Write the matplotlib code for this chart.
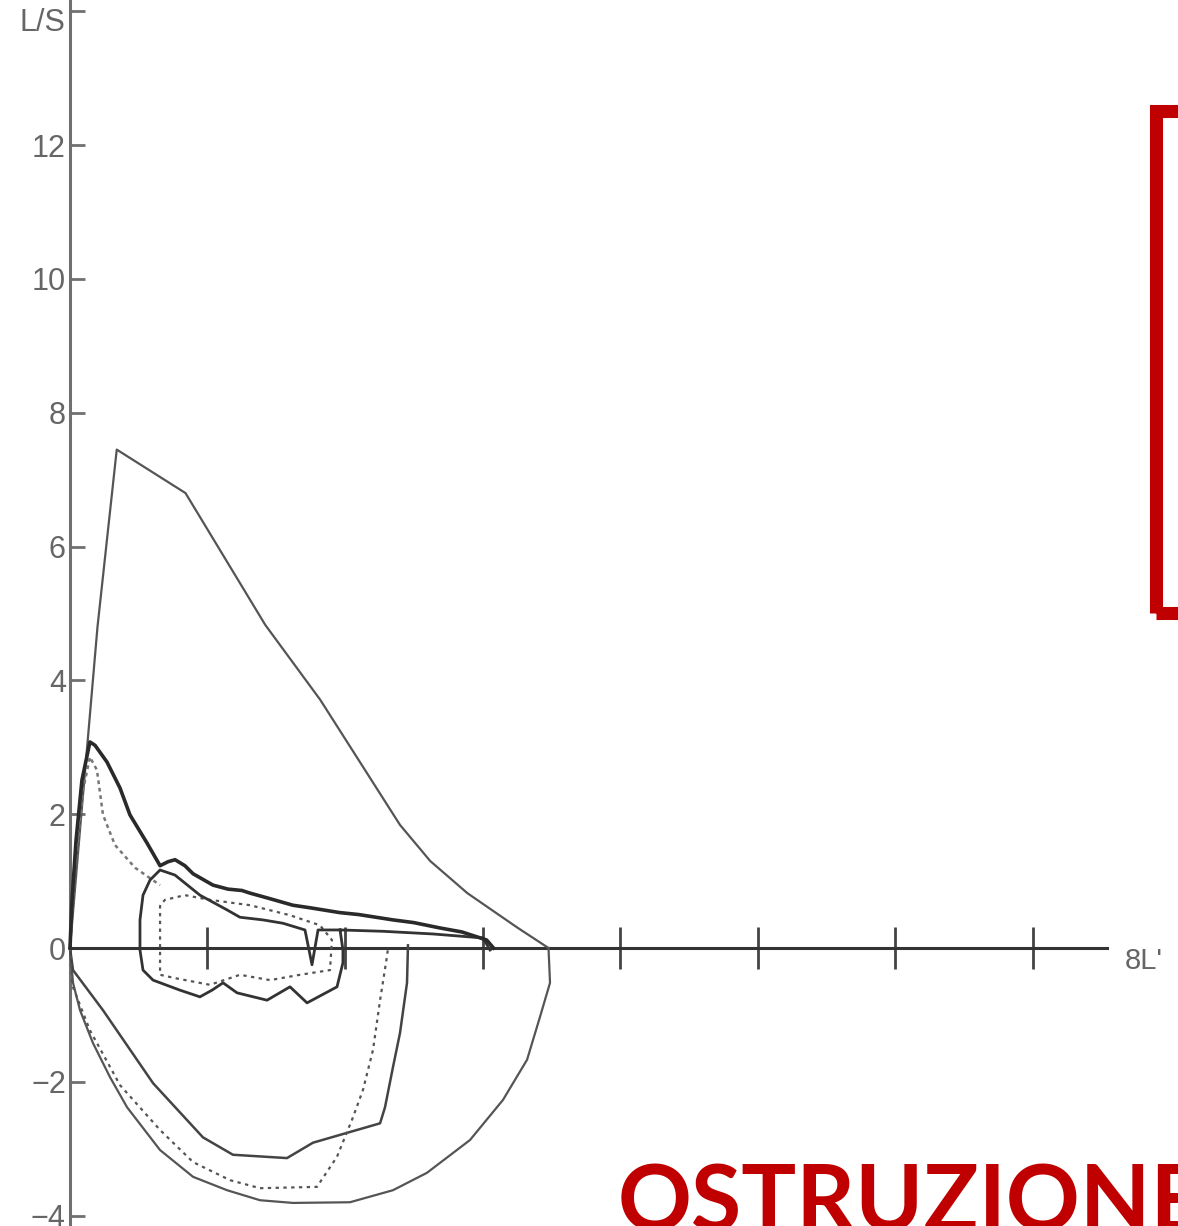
import matplotlib
matplotlib.use("Agg")
import matplotlib.pyplot as plt
from matplotlib.patches import Rectangle

# ---------------- data (volume L, flow L/s) ----------------
pred_exp_vol = [0, 0.06, 0.20, 0.34, 0.84, 1.42, 1.82, 2.40, 2.62, 2.89, 3.25, 3.48]
pred_exp_flow = [0, 1.46, 4.8, 7.45, 6.80, 4.83, 3.71, 1.84, 1.30, 0.82, 0.31, 0]

pred_insp_vol = [0, 0.022, 0.073, 0.167, 0.291, 0.415, 0.655, 0.895, 1.142, 1.382, 1.622,
                 2.036, 2.349, 2.596, 2.909, 3.149, 3.324, 3.418, 3.491, 3.48]
pred_insp_flow = [0, -0.52, -0.93, -1.42, -1.93, -2.38, -3.02, -3.42, -3.62, -3.77, -3.81,
                  -3.80, -3.62, -3.36, -2.87, -2.27, -1.67, -1.03, -0.52, 0]

meas_exp_vol = [0, 0.015, 0.044, 0.087, 0.145, 0.182, 0.269, 0.364, 0.436, 0.56, 0.655,
                0.713, 0.764, 0.836, 0.895, 1.04, 1.15, 1.25, 1.31, 1.45, 1.62, 1.75,
                1.96, 2.1, 2.35, 2.5, 2.69, 2.85, 3.03, 3.08]
meas_exp_flow = [0, 0.72, 1.61, 2.51, 3.08, 3.03, 2.78, 2.39, 1.99, 1.57, 1.23,
                 1.29, 1.32, 1.23, 1.11, 0.94, 0.88, 0.86, 0.82, 0.74, 0.64, 0.60,
                 0.53, 0.50, 0.42, 0.38, 0.30, 0.24, 0.12, 0.0]

meas_insp_vol = [0, 0.022, 0.24, 0.604, 0.967, 1.185, 1.578, 1.767, 2.036, 2.255, 2.291,
                 2.349, 2.4, 2.451, 2.458]
meas_insp_flow = [0, -0.33, -0.93, -2.02, -2.83, -3.09, -3.14, -2.91, -2.75, -2.62, -2.38,
                  -1.78, -1.27, -0.52, 0.04]

tidal_vol = [3.055, 3.004, 2.64, 2.276, 1.964, 1.804, 1.76, 1.709, 1.549, 1.404, 1.236,
             1.142, 0.945, 0.764, 0.655, 0.582, 0.531, 0.509, 0.509, 0.531, 0.604, 0.8,
             0.945, 1.033, 1.113, 1.215, 1.433, 1.6, 1.724, 1.833, 1.942, 1.985, 1.985, 1.964]
tidal_flow = [-0.03, 0.15, 0.21, 0.25, 0.27, 0.27, -0.25, 0.27, 0.37, 0.42, 0.46,
              0.57, 0.79, 1.09, 1.166, 1.016, 0.79, 0.42, -0.03, -0.33, -0.48, -0.63,
              -0.73, -0.63, -0.52, -0.67, -0.78, -0.58, -0.82, -0.70, -0.58, -0.22, -0.03, 0.27]

dot_exp_vol = [0, 0.036, 0.095, 0.145, 0.196, 0.24, 0.327, 0.473, 0.655]
dot_exp_flow = [0, 1.16, 2.36, 2.855, 2.66, 1.99, 1.54, 1.20, 0.94]

dot_insp_vol = [0, 0.015, 0.145, 0.364, 0.655, 0.895, 1.164, 1.382, 1.796, 1.942, 2.058,
                2.131, 2.204, 2.255, 2.305, 2.313]
dot_insp_flow = [0, -0.55, -1.23, -2.05, -2.72, -3.20, -3.47, -3.59, -3.57, -3.12, -2.53,
                 -2.12, -1.52, -0.78, -0.13, 0]

dot_loop_vol = [0.655, 0.655, 0.764, 1.018, 1.236, 1.455, 1.673, 1.891, 1.905, 1.818, 1.6,
                1.309, 1.018, 0.836, 0.691, 0.655]
dot_loop_flow = [0.64, -0.40, -0.45, -0.55, -0.40, -0.48, -0.40, -0.33, 0.12, 0.34, 0.49,
                 0.64, 0.72, 0.79, 0.72, 0.64]

y_ticks = [-4, -2, 0, 2, 4, 6, 8, 10, 12, 14]
y_tick_labels = ["\u22124", "\u22122", "0", "2", "4", "6", "8", "10", "12", ""]
y_unit = "L/S"
x_ticks = [1, 2, 3, 4, 5, 6, 7]
x_label = "8L'"
title_text = "OSTRUZIONE"

# ---------------- figure ----------------
W, H = 1178, 1226
fig = plt.figure(figsize=(W / 100, H / 100), dpi=100)
fig.patch.set_facecolor("white")
ax = fig.add_axes([0, 0, 1, 1])
ax.set_facecolor("none")
ax.set_xlim(-0.509, 8.058)
ax.set_ylim(-4.155, 14.17)

for s in ["top", "right"]:
    ax.spines[s].set_visible(False)
ax.spines["left"].set_position(("data", 0))
ax.spines["bottom"].set_position(("data", 0))
ax.spines["left"].set_color("#707070")
ax.spines["left"].set_linewidth(2.2)
ax.spines["bottom"].set_color("#333333")
ax.spines["bottom"].set_linewidth(2.2)
ax.spines["bottom"].set_bounds(0, 7.54)

ax.set_yticks(y_ticks)
ax.set_yticklabels(y_tick_labels)
ax.set_xticks(x_ticks)
ax.set_xticklabels([])
ax.tick_params(axis="y", direction="in", length=11, width=2, color="#707070",
               pad=3, labelsize=22, labelcolor="#666666")
ax.tick_params(axis="x", direction="inout", length=30, width=2, color="#444444")
for lab in ax.get_yticklabels():
    lab.set_fontfamily("Liberation Sans")

ax.text(-0.03, 13.82, y_unit, fontsize=22, color="#666666", family="Liberation Sans",
        ha="right", va="center", clip_on=False)

# curves
ax.plot(pred_exp_vol, pred_exp_flow, color="#555555", lw=1.6, zorder=3)
ax.plot(pred_insp_vol, pred_insp_flow, color="#555555", lw=1.6, zorder=3)
ax.plot(meas_insp_vol, meas_insp_flow, color="#444444", lw=1.8, zorder=3)
ax.plot(dot_insp_vol, dot_insp_flow, color="#555555", lw=1.6, ls=(0, (1.5, 2)), zorder=3)
ax.plot(dot_loop_vol, dot_loop_flow, color="#555555", lw=1.6, ls=(0, (1.5, 2)), zorder=3)
ax.plot(dot_exp_vol, dot_exp_flow, color="#777777", lw=1.8, ls=(0, (1.5, 1.5)), zorder=3)
ax.plot(tidal_vol, tidal_flow, color="#333333", lw=2.0, zorder=4)
ax.plot(meas_exp_vol, meas_exp_flow, color="#2a2a2a", lw=2.6, zorder=4)

ax.text(7.67, -0.2, x_label, fontsize=21, color="#666666", family="Liberation Sans",
        ha="left", va="center", clip_on=False)

# red decorations
fig.add_artist(Rectangle((1156 / W, 1 - 613 / H), 0.2, (613 - 111) / H,
                         transform=fig.transFigure, fill=False, edgecolor="#C00000",
                         linewidth=9.4, clip_on=False, joinstyle="miter"))
fig.text(618 / W, 1 - 1232 / H, title_text, fontsize=66, fontweight="bold",
         family=["Lato", "DejaVu Sans"], color="#C00000", ha="left", va="baseline")

fig.savefig("out.png", dpi=100, facecolor="white")
